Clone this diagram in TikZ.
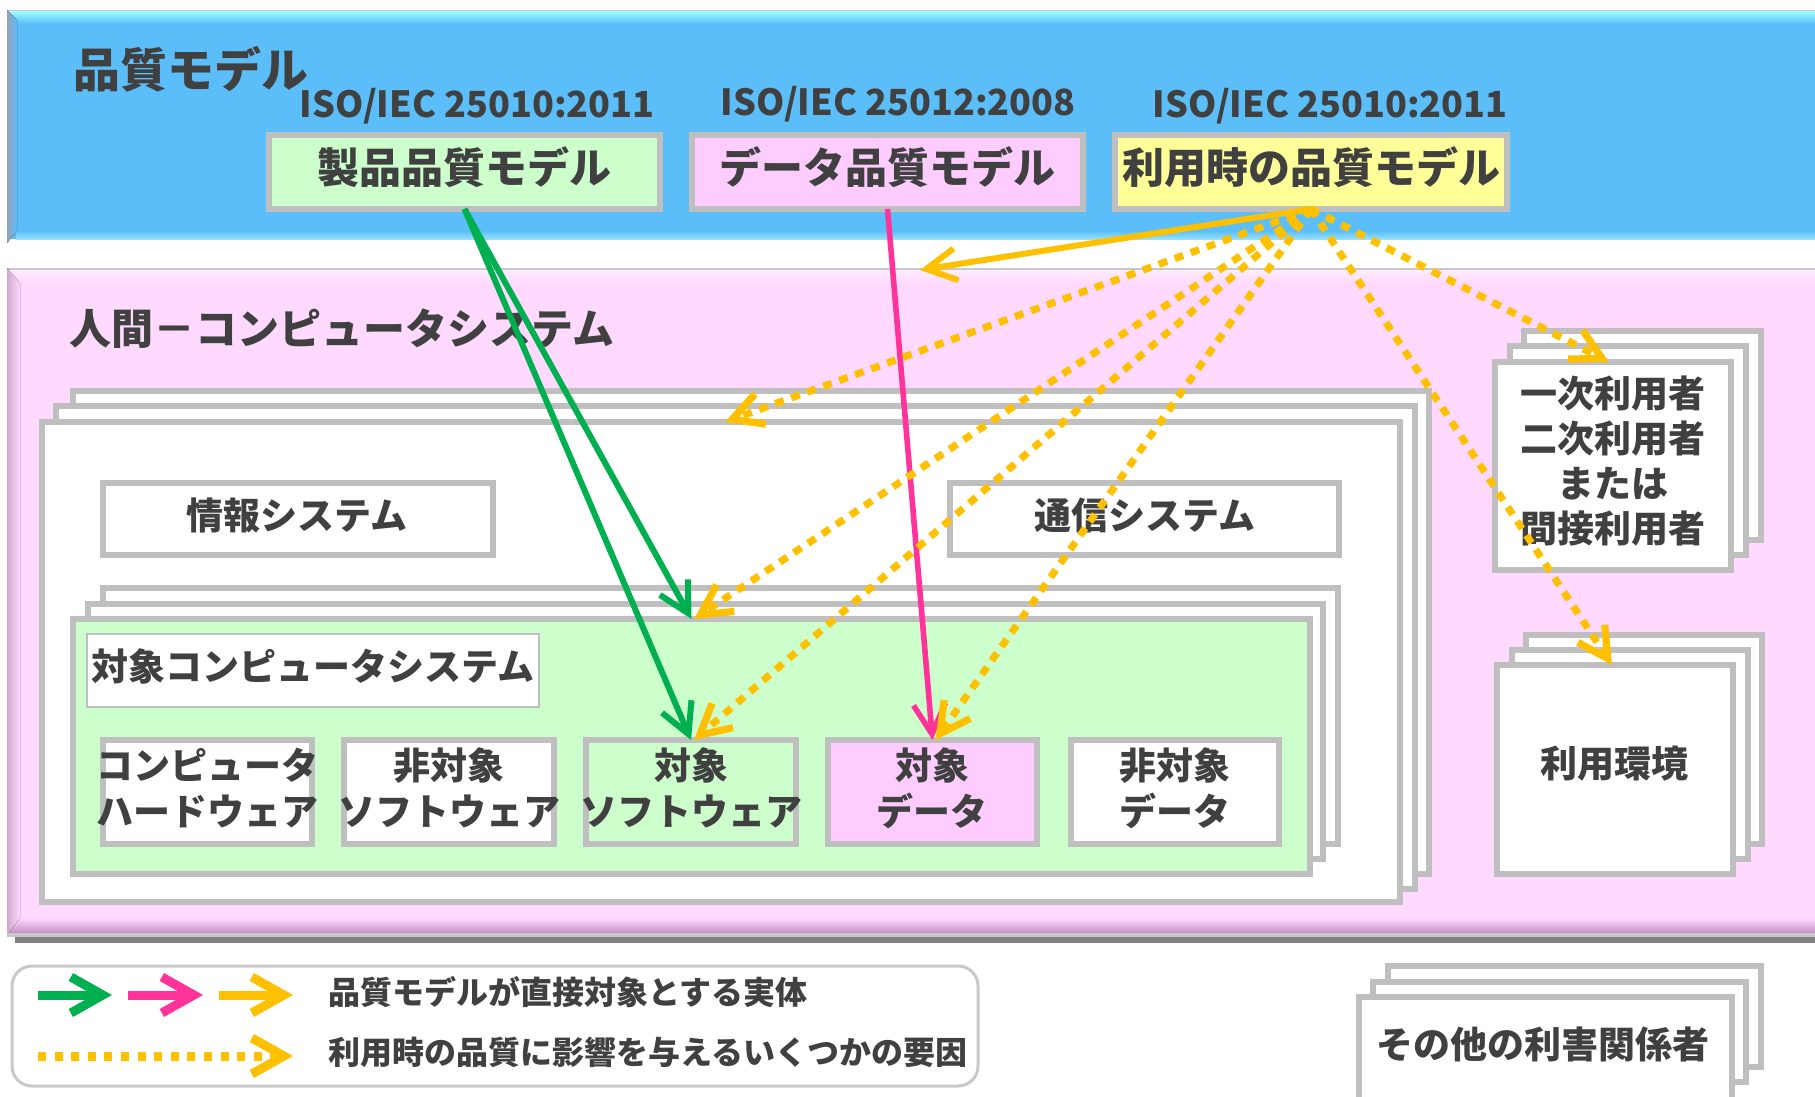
\documentclass[tikz,border=0pt]{standalone}
\usepackage{fontspec}
\setmainfont{Noto Sans CJK JP}
\usetikzlibrary{arrows.meta,fit}
\definecolor{qblue}{RGB}{92,190,248}
\definecolor{qcyan}{RGB}{150,250,255}
\definecolor{qedge}{RGB}{150,160,185}
\definecolor{qlow}{RGB}{150,225,255}
\definecolor{hpink}{RGB}{255,217,255}
\definecolor{hpinklight}{RGB}{255,236,255}
\definecolor{hedge}{RGB}{205,170,205}
\definecolor{hmauve}{RGB}{185,135,185}
\definecolor{bgray}{RGB}{191,191,191}
\definecolor{lgray}{RGB}{200,200,200}
\definecolor{sgray}{RGB}{128,128,128}
\definecolor{pgreen}{RGB}{204,255,204}
\definecolor{ppink}{RGB}{255,204,255}
\definecolor{pyellow}{RGB}{255,255,153}
\definecolor{tgray}{RGB}{64,64,64}
\definecolor{agreen}{RGB}{0,176,80}
\definecolor{apink}{RGB}{255,51,153}
\definecolor{aorange}{RGB}{255,192,0}
\begin{document}
\begin{tikzpicture}[x=0.5pt,y=-0.5pt,
  box/.style={draw=bgray,line width=2.8pt,fill=white,inner sep=0pt,outer sep=0pt},
  band/.style={inner sep=0pt,outer sep=0pt},
  txt/.style={text=tgray,inner sep=0pt,outer sep=0pt,align=center},
  ftitle/.style={txt,font=\bfseries\fontsize{23.5pt}{28pt}\selectfont},
  fbig/.style={txt,font=\bfseries\fontsize{21pt}{25pt}\selectfont},
  fiso/.style={txt,font=\bfseries\fontsize{18pt}{22pt}\selectfont},
  fmid/.style={txt,font=\bfseries\fontsize{18.5pt}{23pt}\selectfont},
  fuser/.style={txt,font=\bfseries\fontsize{18.5pt}{22.5pt}\selectfont},
  fleg/.style={txt,anchor=west,font=\bfseries\fontsize{16pt}{19pt}\selectfont},
  tipbarb/.style={-{Straight Barb[length=15pt,width=16pt]}},
  garrow/.style={draw=agreen,line width=3pt,tipbarb},
  parrow/.style={draw=apink,line width=2.8pt,tipbarb},
  oarrow/.style={draw=aorange,line width=3pt,tipbarb},
  odot/.style={draw=aorange,line width=3.6pt,dash pattern=on 4.5pt off 4pt,tipbarb},
  legarrow/.style={line width=4.5pt,-{Straight Barb[length=16pt,width=18pt]}},
]
\useasboundingbox (0,0) rectangle (1815,1097);

% ---------- quality model band ----------
\fill[lgray] (7,10) rectangle (1815,12);
\node[band,fill=qblue,fit={(9,12)(1815,239)}] (qband) {};
\fill[top color=qcyan,bottom color=qblue] (9,12) rectangle (1815,24);
\fill[top color=qblue,bottom color=qlow] (16,231) rectangle (1815,239);
\fill[left color=qedge,right color=qblue] (7,10) -- (17,20) -- (17,231) -- (7,243) -- cycle;

\node[ftitle] (qtitle) at (191,69) {品質モデル};
\node[fiso] (iso1) at (477,106) {ISO/IEC 25010:2011};
\node[fiso] (iso2) at (898,104) {ISO/IEC 25012:2008};
\node[fiso] (iso3) at (1330,106) {ISO/IEC 25010:2011};

\node[box,fill=pgreen,fit={(269,135)(660,209)}] (seihin) {};
\node[box,fill=ppink,fit={(692,135)(1083,209)}] (datam) {};
\node[box,fill=pyellow,fit={(1115,135)(1507,209)}] (riyou) {};
\node[fbig] (seihinT) at (464,167) {製品品質モデル};
\node[fbig] (datamT) at (887,167) {データ品質モデル};
\node[fbig] (riyouT) at (1311,167) {利用時の品質モデル};

% ---------- human-computer system band ----------
\fill[lgray] (7,268) rectangle (1815,270);
\node[band,fill=hpink,fit={(9,270)(1815,933)}] (hband) {};
\fill[top color=hpinklight,bottom color=hpink] (9,270) rectangle (1815,284);
\fill[top color=hpink,bottom color=hmauve] (20,918) -- (1815,918) -- (1815,933) -- (7,935) -- cycle;
\fill[left color=hedge,right color=hpink] (7,268) -- (20,283) -- (20,918) -- (7,935) -- cycle;
\fill[lgray] (7,933) rectangle (1815,937);
\fill[sgray] (15,937) rectangle (1815,943);

\node[fbig] (hcsT) at (342,329) {人間－コンピュータシステム};

% big white stack
\node[box,fit={(73,391)(1429,874)}] (wback) {};
\node[box,fit={(56,406)(1415,889)}] (wmid) {};
\node[box,fit={(42,422)(1400,902)}] (wfront) {};

\node[box,fit={(103,483)(493,555)}] (joho) {};
\node[fmid] (johoT) at (297,515) {情報システム};
\node[box,fit={(950,483)(1339,555)}] (tsushin) {};
\node[fmid] (tsushinT) at (1145,515) {通信システム};

% target computer system stack
\node[box,fit={(103,588)(1338,844)}] (gback) {};
\node[box,fit={(88,604)(1323,859)}] (gmid) {};
\node[box,fill=pgreen,fit={(73,619)(1310,874)}] (gfront) {};

\node[box,line width=1.3pt,fit={(87,634)(539,707)}] (tcs) {};
\node[fmid] (tcsT) at (313,666) {対象コンピュータシステム};

\node[box,fit={(103,740)(312,844)}] (b1) {};
\node[box,fit={(344,740)(554,844)}] (b2) {};
\node[box,fill=pgreen,fit={(586,740)(796,844)}] (b3) {};
\node[box,fill=ppink,fit={(828,740)(1037,844)}] (b4) {};
\node[box,fit={(1071,740)(1279,844)}] (b5) {};
\node[fmid] (b1T) at (207,788) {コンピュータ\\ハードウェア};
\node[fmid] (b2T) at (449,788) {非対象\\ソフトウェア};
\node[fmid] (b3T) at (691,788) {対象\\ソフトウェア};
\node[fmid] (b4T) at (932,788) {対象\\データ};
\node[fmid] (b5T) at (1175,788) {非対象\\データ};

% users stack
\node[box,fit={(1524,331)(1761,540)}] (uback) {};
\node[box,fit={(1510,346)(1746,555)}] (umid) {};
\node[box,fit={(1495,362)(1731,570)}] (ufront) {};
\node[fuser] (ufrontT) at (1613,461) {一次利用者\\二次利用者\\または\\間接利用者};

% context of use stack
\node[box,fit={(1526,635)(1762,844)}] (eback) {};
\node[box,fit={(1512,650)(1748,859)}] (emid) {};
\node[box,fit={(1497,665)(1733,874)}] (efront) {};
\node[fmid] (efrontT) at (1614,764) {利用環境};

% other stakeholders stack
\node[box,fit={(1388,966)(1761,1067)}] (sback) {};
\node[box,fit={(1373,982)(1746,1082)}] (smid) {};
\node[box,fit={(1359,997)(1732,1130)}] (sfront) {};
\node[fmid] (sfrontT) at (1543,1044) {その他の利害関係者};

% ---------- connectors ----------
\draw[garrow] (seihin.south) -- (gfront.north);
\draw[garrow] (seihin.south) -- (b3.north);
\draw[parrow] (datam.south) -- (b4.north);
\draw[oarrow] (riyou.south) -- ([xshift=4pt]hband.north);
\draw[odot] (riyou.south) -- ([xshift=2pt]wfront.north);
\draw[odot] (riyou.south) -- ([xshift=1.3pt]gfront.north);
\draw[odot] (riyou.south) -- ([xshift=1.5pt]b3.north);
\draw[odot] (riyou.south) -- ([xshift=1.5pt]b4.north);
\draw[odot] (riyou.south) -- ([xshift=-2pt]ufront.north);
\draw[odot] (riyou.south) -- ([xshift=-1.5pt]efront.north);

% ---------- legend ----------
\node[draw=lgray,line width=1.5pt,rounded corners=10pt,fill=white,inner sep=0pt,outer sep=0pt,fit={(12,966)(978,1086)}] (legend) {};
\coordinate (lg1s) at (38,995);  \coordinate (lg1e) at (112,995);
\coordinate (lg2s) at (128,995); \coordinate (lg2e) at (203,995);
\coordinate (lg3s) at (219,995); \coordinate (lg3e) at (293,995);
\coordinate (lg4s) at (38,1056); \coordinate (lg4e) at (293,1056);
\draw[legarrow,draw=agreen] (lg1s) -- (lg1e);
\draw[legarrow,draw=apink] (lg2s) -- (lg2e);
\draw[legarrow,draw=aorange] (lg3s) -- (lg3e);
\draw[legarrow,draw=aorange,dash pattern=on 4pt off 4.3pt] (lg4s) -- (lg4e);
\node[fleg] (leg1T) at (328,992) {品質モデルが直接対象とする実体};
\node[fleg] (leg2T) at (328,1052) {利用時の品質に影響を与えるいくつかの要因};
\end{tikzpicture}
\end{document}
